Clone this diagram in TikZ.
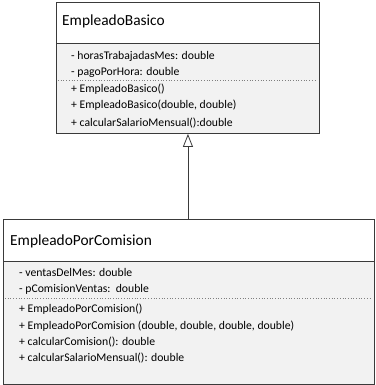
\documentclass[tikz,border=0pt]{standalone}
\usepackage{fontspec}
\setmainfont{Carlito}
\usetikzlibrary{arrows.meta}
\definecolor{boxline}{HTML}{3A3A3A}
\definecolor{boxfill}{HTML}{F2F2F2}
\definecolor{sepline}{HTML}{7F7F7F}
\begin{document}
\begin{tikzpicture}[x=1pt,y=-1pt,
  classbox/.style={draw=boxline, line width=0.9pt, anchor=north west, inner sep=0pt},
  classname/.style={anchor=base west, inner sep=0pt, font=\fontsize{15.4}{17}\selectfont},
  member/.style={anchor=base west, inner sep=0pt, font=\fontsize{11.7}{13}\selectfont},
  sep/.style={draw=sepline, line width=0.7pt, dotted},
  inherit/.style={draw=boxline, line width=0.8pt, -{Triangle[open, length=13pt, width=10pt]}}]
\useasboundingbox (0,0) rectangle (375,385);
\fill[white] (0,0) rectangle (375,385);

% EmpleadoBasico class
\fill[boxfill] (56,43) rectangle (319,133);
\node[classbox, minimum width=263pt, minimum height=131pt] (basico) at (56,2) {};
\draw[boxline, line width=0.9pt] (56,43) -- (319,43);
\draw[sep] (58,80) -- (317,80);
\node[classname] (basicoName) at (62,26) {EmpleadoBasico};
\node[member] (b1) at (71,60) {- horasTrabajadasMes: double};
\node[member] (b2) at (71,76) {- pagoPorHora: double};
\node[member] (b3) at (71,93) {+ EmpleadoBasico()};
\node[member] (b4) at (71,109) {+ EmpleadoBasico(double, double)};
\node[member] (b5) at (71,126) {+ calcularSalarioMensual():double};

% EmpleadoPorComision class
\fill[boxfill] (3,261) rectangle (374,384);
\node[classbox, minimum width=371pt, minimum height=165pt] (comision) at (3,219) {};
\draw[boxline, line width=0.9pt] (3,261) -- (374,261);
\draw[sep] (5,298) -- (372,298);
\node[classname] (comisionName) at (10,245) {EmpleadoPorComision};
\node[member] (c1) at (19,276) {- ventasDelMes: double};
\node[member] (c2) at (19,292) {- pComisionVentas:\ \ double};
\node[member] (c3) at (19,312) {+ EmpleadoPorComision()};
\node[member] (c4) at (19,329) {+ EmpleadoPorComision (double, double, double, double)};
\node[member] (c5) at (19,345) {+ calcularComision(): double};
\node[member] (c6) at (19,361) {+ calcularSalarioMensual(): double};

% generalisation
\draw[inherit] (basico.south |- comision.north) -- (basico.south);
\end{tikzpicture}
\end{document}
